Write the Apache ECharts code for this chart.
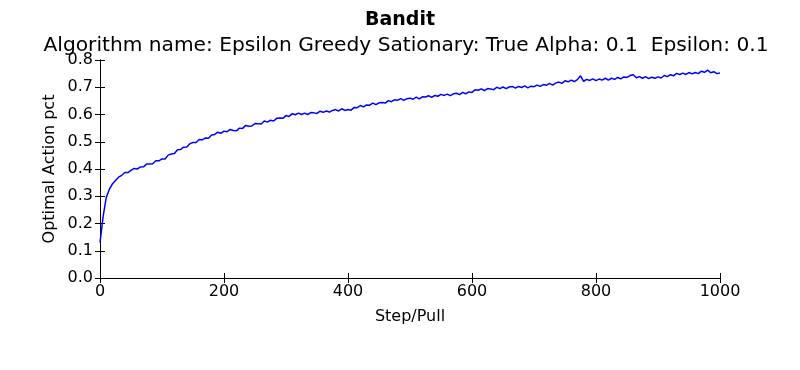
<!DOCTYPE html>
<html>
<head>
<meta charset="utf-8">
<script src="https://cdn.jsdelivr.net/npm/echarts@6/dist/echarts.min.js"></script>
<style>
html,body{margin:0;padding:0;background:#fff;}
#chart{width:800px;height:370px;}
</style>
</head>
<body>
<div id="chart"></div>
<script>
// Steps sampled every 5 pulls (0..1000)
var steps = [];
for (var s = 0; s <= 1000; s += 5) steps.push(s);

// Optimal action percentage
var optimalPct = [
0.130,0.225,0.295,0.325,0.345,0.358,0.370,0.377,0.387,0.387,
0.395,0.402,0.400,0.407,0.408,0.418,0.418,0.419,0.430,0.430,
0.437,0.437,0.451,0.455,0.457,0.471,0.472,0.480,0.481,0.493,
0.497,0.497,0.508,0.507,0.514,0.513,0.525,0.527,0.535,0.531,
0.539,0.537,0.545,0.541,0.540,0.550,0.549,0.560,0.557,0.558,
0.567,0.566,0.565,0.576,0.572,0.579,0.576,0.586,0.587,0.586,
0.596,0.593,0.603,0.599,0.605,0.600,0.605,0.600,0.607,0.606,
0.604,0.612,0.608,0.613,0.609,0.615,0.618,0.613,0.621,0.615,
0.618,0.616,0.626,0.625,0.633,0.628,0.635,0.634,0.642,0.636,
0.643,0.644,0.642,0.651,0.647,0.654,0.652,0.658,0.652,0.658,
0.660,0.656,0.664,0.657,0.665,0.664,0.669,0.663,0.670,0.667,
0.674,0.670,0.675,0.669,0.676,0.678,0.673,0.681,0.676,0.683,
0.681,0.691,0.689,0.694,0.688,0.695,0.694,0.691,0.700,0.695,
0.701,0.695,0.701,0.703,0.697,0.703,0.699,0.705,0.698,0.704,
0.702,0.708,0.703,0.710,0.707,0.714,0.708,0.715,0.719,0.714,
0.724,0.720,0.726,0.721,0.728,0.742,0.722,0.729,0.725,0.731,
0.724,0.730,0.726,0.733,0.726,0.733,0.729,0.736,0.731,0.738,
0.736,0.743,0.746,0.735,0.739,0.733,0.739,0.732,0.737,0.733,
0.738,0.734,0.743,0.739,0.746,0.742,0.751,0.747,0.752,0.747,
0.754,0.749,0.754,0.750,0.759,0.755,0.763,0.753,0.757,0.750,
0.752
];

var xTicks = [0, 200, 400, 600, 800, 1000];
var yTicks = [0.0, 0.1, 0.2, 0.3, 0.4, 0.5, 0.6, 0.7, 0.8];

var titleText = 'Bandit';
var subtitleText = 'Algorithm name: Epsilon Greedy Sationary: True Alpha: 0.1  Epsilon: 0.1';
var xName = 'Step/Pull';
var yName = 'Optimal Action pct';

var points = steps.map(function (st, i) { return [st, optimalPct[i]]; });

var FONT = 'DejaVu Sans';
var chart = echarts.init(document.getElementById('chart'), null, {renderer: 'canvas'});

function axisCommon(show) {
  return {
    axisLine: {show: true, lineStyle: {color: '#000', width: 1}},
    axisTick: {show: true, inside: true, length: 5, lineStyle: {color: '#000', width: 1}},
    splitLine: {show: false},
    axisLabel: {show: show, color: '#000', fontFamily: FONT, fontSize: 16}
  };
}

var xBase = axisCommon(true);
var xTop = axisCommon(false);
var yBase = axisCommon(true);
var yRight = axisCommon(false);

chart.setOption({
  animation: false,
  backgroundColor: '#fff',
  grid: {left: 100, top: 60, width: 620, height: 218, containLabel: false},
  xAxis: [
    Object.assign({type: 'value', position: 'bottom', min: xTicks[0], max: xTicks[xTicks.length - 1], interval: 200}, xBase,
      {axisLabel: Object.assign({}, xBase.axisLabel, {margin: 6, formatter: function (v) { return String(v); }})}),
    Object.assign({type: 'value', position: 'top', min: xTicks[0], max: xTicks[xTicks.length - 1], interval: 200}, xTop)
  ],
  yAxis: [
    Object.assign({type: 'value', position: 'left', min: yTicks[0], max: yTicks[yTicks.length - 1], interval: 0.1}, yBase,
      {axisLabel: Object.assign({}, yBase.axisLabel, {margin: 7, formatter: function (v) { return v.toFixed(1); }})}),
    Object.assign({type: 'value', position: 'right', min: yTicks[0], max: yTicks[yTicks.length - 1], interval: 0.1}, yRight)
  ],
  series: [{
    type: 'line',
    data: points,
    xAxisIndex: 0,
    yAxisIndex: 0,
    showSymbol: false,
    symbol: 'none',
    lineStyle: {color: '#0000ff', width: 1.5},
    itemStyle: {color: '#0000ff'}
  }],
  graphic: [
    {type: 'text', left: 'center', top: 11, style: {text: titleText, fontFamily: FONT, fontWeight: 'bold', fontSize: 19, fill: '#000'}},
    {type: 'text', x: 406, y: 46, style: {text: subtitleText, fontFamily: FONT, fontSize: 20.2, fill: '#000', align: 'center', verticalAlign: 'middle'}},
    {type: 'text', x: 410, y: 317, style: {text: xName, fontFamily: FONT, fontSize: 16, fill: '#000', align: 'center', verticalAlign: 'middle'}},
    {type: 'text', x: 50, y: 169, rotation: Math.PI / 2, style: {text: yName, fontFamily: FONT, fontSize: 16, fill: '#000', align: 'center', verticalAlign: 'middle'}}
  ]
});
</script>
</body>
</html>
